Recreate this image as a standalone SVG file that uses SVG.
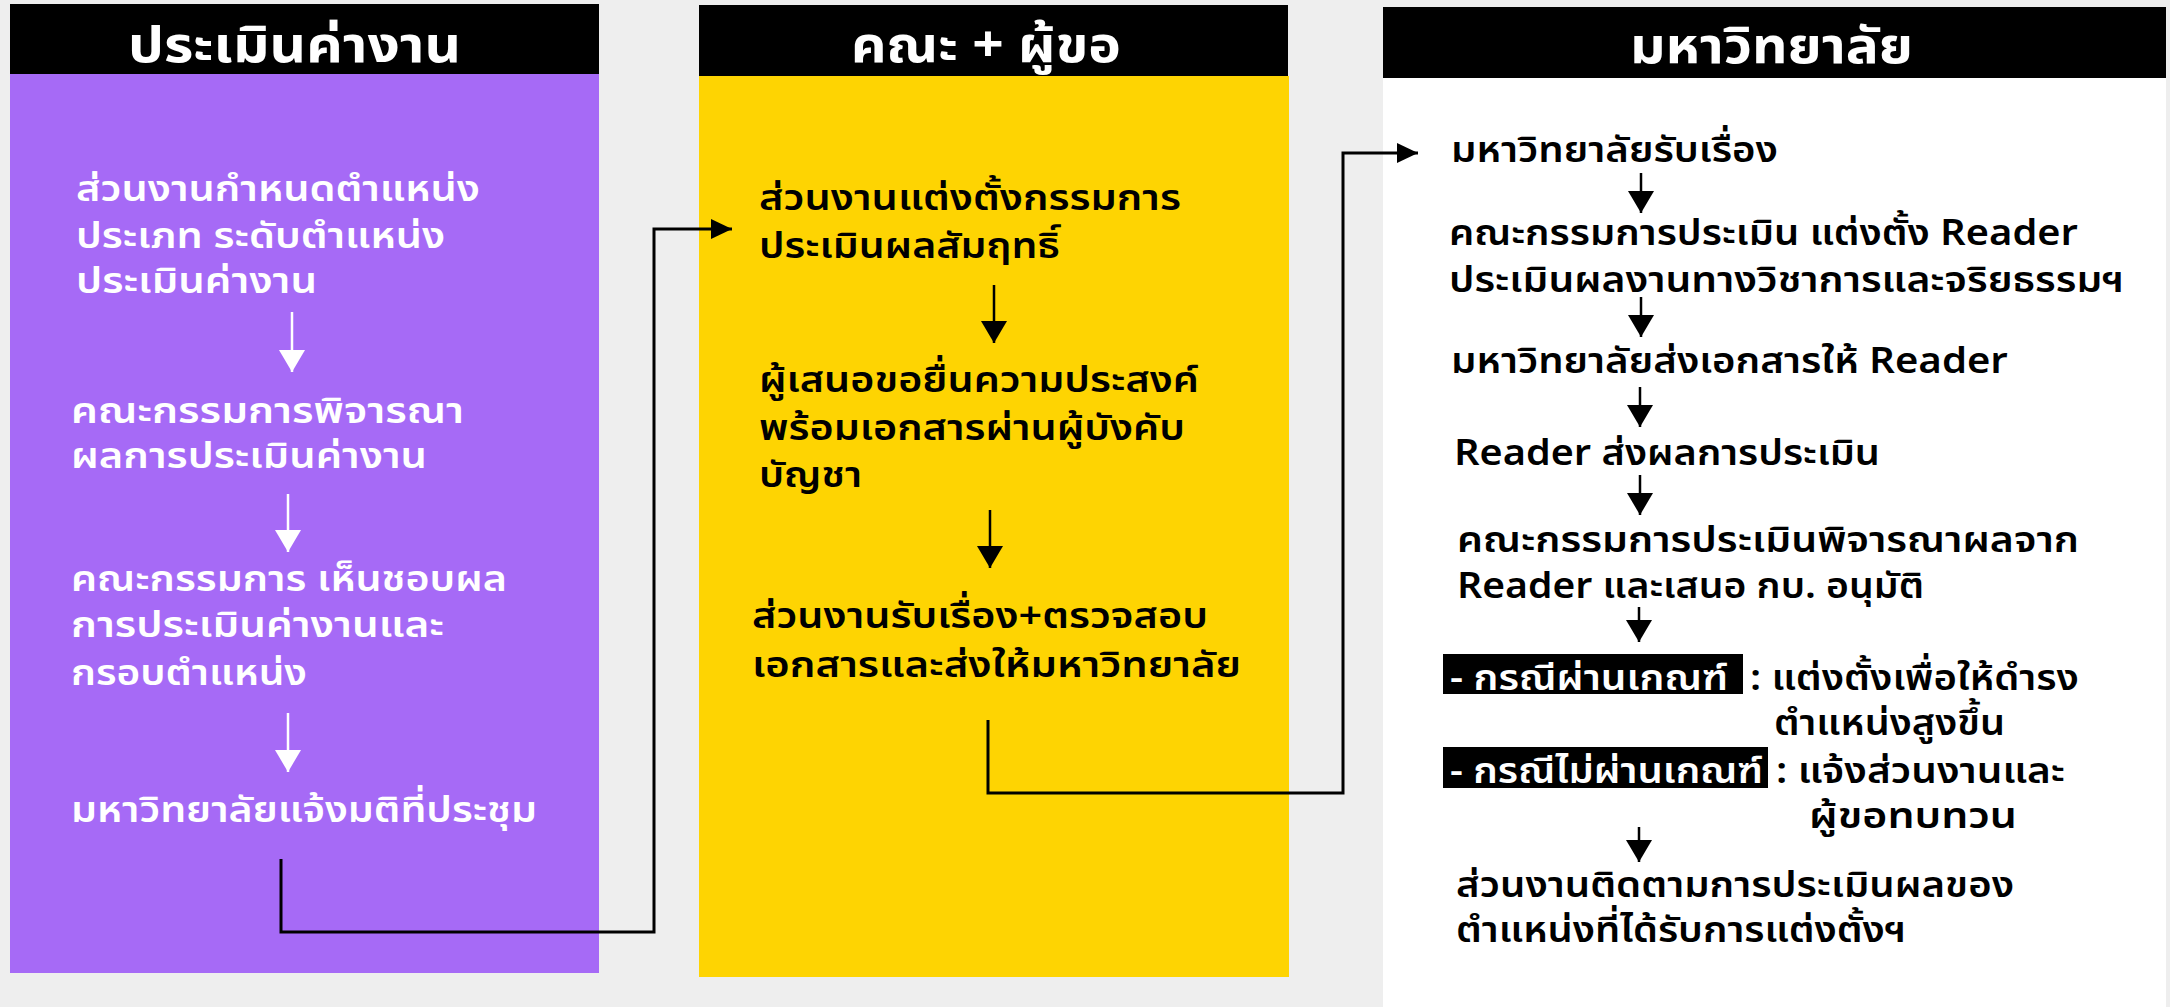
<svg xmlns="http://www.w3.org/2000/svg" width="2170" height="1007" viewBox="0 0 2170 1007">
<style>
.tx{font-family:"Noto Sans Thai","Noto Sans",sans-serif;font-size:36px;font-weight:600}
.w{fill:#ffffff}
.b{fill:#000000}
.hd{font-family:"Noto Sans Thai","Noto Sans",sans-serif;font-size:50px;font-weight:700;fill:#ffffff}
.ln{fill:none;stroke-width:2.5}
.lw{stroke:#ffffff}
.lb{stroke:#000000}
.cn{fill:none;stroke:#000000;stroke-width:3}
</style>
<defs>
<marker id="hw" viewBox="0 0 22 26" refX="22" refY="13" markerWidth="22" markerHeight="26" markerUnits="userSpaceOnUse" orient="auto"><path d="M0,0 L22,13 L0,26 z" fill="#ffffff"/></marker>
<marker id="hb" viewBox="0 0 22 26" refX="22" refY="13" markerWidth="22" markerHeight="26" markerUnits="userSpaceOnUse" orient="auto"><path d="M0,0 L22,13 L0,26 z" fill="#000000"/></marker>
<marker id="hc" viewBox="0 0 21 20" refX="21" refY="10" markerWidth="21" markerHeight="20" markerUnits="userSpaceOnUse" orient="auto"><path d="M0,0 L21,10 L0,20 z" fill="#000000"/></marker>
</defs>
<rect x="0" y="0" width="2170" height="1007" fill="#eeeeee"/>

<g id="lane-1">
<rect x="10" y="73" width="589" height="900" fill="#a66af6"/>
<rect x="10" y="4" width="589" height="70" fill="#000000"/>
<text class="hd" x="128" y="62" textLength="333" lengthAdjust="spacingAndGlyphs">ประเมินค่างาน</text>
</g>
<g id="lane-2">
<rect x="699" y="76" width="590" height="901" fill="#fed402"/>
<rect x="699" y="5" width="589" height="71" fill="#000000"/>
<text class="hd" x="851" y="62" textLength="270" lengthAdjust="spacingAndGlyphs">คณะ + ผู้ขอ</text>
</g>
<g id="lane-3">
<rect x="1383" y="78" width="783" height="929" fill="#ffffff"/>
<rect x="1383" y="7" width="783" height="71" fill="#000000"/>
<text class="hd" x="1630" y="63" textLength="283" lengthAdjust="spacingAndGlyphs">มหาวิทยาลัย</text>
</g>

<g id="n1-1" class="tx w">
<text x="76" y="201" textLength="404" lengthAdjust="spacingAndGlyphs">ส่วนงานกำหนดตำแหน่ง</text>
<text x="76" y="248" textLength="369" lengthAdjust="spacingAndGlyphs">ประเภท ระดับตำแหน่ง</text>
<text x="76" y="293" textLength="241" lengthAdjust="spacingAndGlyphs">ประเมินค่างาน</text>
</g>
<g id="n1-2" class="tx w">
<text x="71" y="423" textLength="393" lengthAdjust="spacingAndGlyphs">คณะกรรมการพิจารณา</text>
<text x="71" y="468" textLength="356" lengthAdjust="spacingAndGlyphs">ผลการประเมินค่างาน</text>
</g>
<g id="n1-3" class="tx w">
<text x="71" y="591" textLength="436" lengthAdjust="spacingAndGlyphs">คณะกรรมการ เห็นชอบผล</text>
<text x="71" y="637" textLength="373" lengthAdjust="spacingAndGlyphs">การประเมินค่างานและ</text>
<text x="71" y="685" textLength="236" lengthAdjust="spacingAndGlyphs">กรอบตำแหน่ง</text>
</g>
<g id="n1-4" class="tx w">
<text x="71" y="822" textLength="466" lengthAdjust="spacingAndGlyphs">มหาวิทยาลัยแจ้งมติที่ประชุม</text>
</g>

<g id="n2-1" class="tx b">
<text x="759" y="210" textLength="422" lengthAdjust="spacingAndGlyphs">ส่วนงานแต่งตั้งกรรมการ</text>
<text x="759" y="258" textLength="301" lengthAdjust="spacingAndGlyphs">ประเมินผลสัมฤทธิ์</text>
</g>
<g id="n2-2" class="tx b">
<text x="759" y="392" textLength="440" lengthAdjust="spacingAndGlyphs">ผู้เสนอขอยื่นความประสงค์</text>
<text x="759" y="440" textLength="426" lengthAdjust="spacingAndGlyphs">พร้อมเอกสารผ่านผู้บังคับ</text>
<text x="759" y="487" textLength="103" lengthAdjust="spacingAndGlyphs">บัญชา</text>
</g>
<g id="n2-3" class="tx b">
<text x="752" y="628" textLength="456" lengthAdjust="spacingAndGlyphs">ส่วนงานรับเรื่อง+ตรวจสอบ</text>
<text x="752" y="677" textLength="489" lengthAdjust="spacingAndGlyphs">เอกสารและส่งให้มหาวิทยาลัย</text>
</g>

<g id="n3-1" class="tx b">
<text x="1451" y="162" textLength="327" lengthAdjust="spacingAndGlyphs">มหาวิทยาลัยรับเรื่อง</text>
</g>
<g id="n3-2" class="tx b">
<text x="1449" y="245" textLength="629" lengthAdjust="spacingAndGlyphs">คณะกรรมการประเมิน แต่งตั้ง Reader</text>
<text x="1449" y="292" textLength="675" lengthAdjust="spacingAndGlyphs">ประเมินผลงานทางวิชาการและจริยธรรมฯ</text>
</g>
<g id="n3-3" class="tx b">
<text x="1451" y="373" textLength="557" lengthAdjust="spacingAndGlyphs">มหาวิทยาลัยส่งเอกสารให้ Reader</text>
</g>
<g id="n3-4" class="tx b">
<text x="1454" y="465" textLength="426" lengthAdjust="spacingAndGlyphs">Reader ส่งผลการประเมิน</text>
</g>
<g id="n3-5" class="tx b">
<text x="1457" y="552" textLength="622" lengthAdjust="spacingAndGlyphs">คณะกรรมการประเมินพิจารณาผลจาก</text>
<text x="1457" y="598" textLength="467" lengthAdjust="spacingAndGlyphs">Reader และเสนอ กบ. อนุมัติ</text>
</g>
<g id="n3-6">
<rect x="1443" y="654" width="300" height="40" fill="#000000"/>
<text class="tx w" x="1450" y="690" textLength="278" lengthAdjust="spacingAndGlyphs">- กรณีผ่านเกณฑ์</text>
<text class="tx b" x="1750" y="690" textLength="329" lengthAdjust="spacingAndGlyphs">: แต่งตั้งเพื่อให้ดำรง</text>
<text class="tx b" x="1774" y="735" textLength="231" lengthAdjust="spacingAndGlyphs">ตำแหน่งสูงขึ้น</text>
<rect x="1443" y="747" width="325" height="41" fill="#000000"/>
<text class="tx w" x="1450" y="783" textLength="313" lengthAdjust="spacingAndGlyphs">- กรณีไม่ผ่านเกณฑ์</text>
<text class="tx b" x="1776" y="783" textLength="289" lengthAdjust="spacingAndGlyphs">: แจ้งส่วนงานและ</text>
<text class="tx b" x="1809" y="828" textLength="208" lengthAdjust="spacingAndGlyphs">ผู้ขอทบทวน</text>
</g>
<g id="n3-7" class="tx b">
<text x="1456" y="897" textLength="558" lengthAdjust="spacingAndGlyphs">ส่วนงานติดตามการประเมินผลของ</text>
<text x="1456" y="942" textLength="450" lengthAdjust="spacingAndGlyphs">ตำแหน่งที่ได้รับการแต่งตั้งฯ</text>
</g>

<g id="connectors">
<line class="ln lw" x1="292" y1="312" x2="292" y2="372" marker-end="url(#hw)"/>
<line class="ln lw" x1="288" y1="494" x2="288" y2="552" marker-end="url(#hw)"/>
<line class="ln lw" x1="288" y1="713" x2="288" y2="772" marker-end="url(#hw)"/>
<line class="ln lb" x1="994" y1="285" x2="994" y2="343" marker-end="url(#hb)"/>
<line class="ln lb" x1="990" y1="510" x2="990" y2="568" marker-end="url(#hb)"/>
<line class="ln lb" x1="1641" y1="173" x2="1641" y2="213" marker-end="url(#hb)"/>
<line class="ln lb" x1="1641" y1="297" x2="1641" y2="337" marker-end="url(#hb)"/>
<line class="ln lb" x1="1640" y1="387" x2="1640" y2="427" marker-end="url(#hb)"/>
<line class="ln lb" x1="1640" y1="475" x2="1640" y2="515" marker-end="url(#hb)"/>
<line class="ln lb" x1="1639" y1="607" x2="1639" y2="642" marker-end="url(#hb)"/>
<line class="ln lb" x1="1639" y1="827" x2="1639" y2="862" marker-end="url(#hb)"/>
<path class="cn" d="M281,859 V932 H654 V229 H732" marker-end="url(#hc)"/>
<path class="cn" d="M988,720 V793 H1343 V153 H1418" marker-end="url(#hc)"/>
</g>
</svg>
